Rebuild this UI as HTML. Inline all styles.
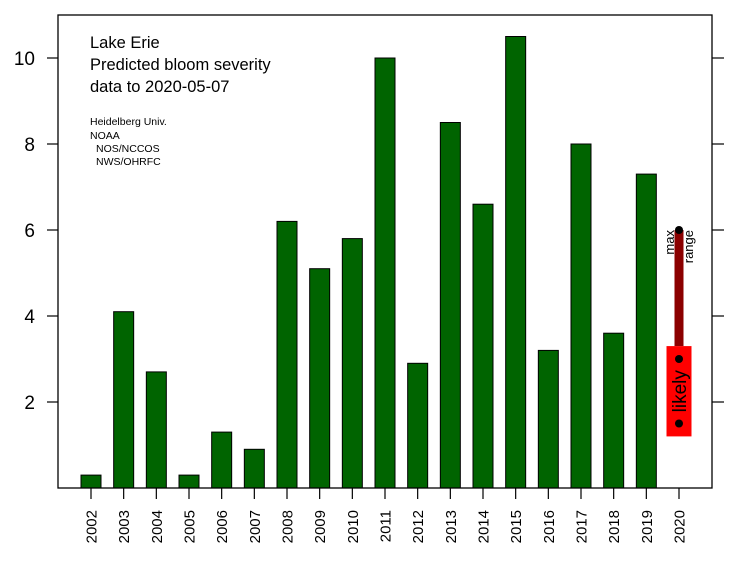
<!DOCTYPE html>
<html><head><meta charset="utf-8"><style>
html,body{margin:0;padding:0;background:#fff;}
svg{display:block;font-family:"Liberation Sans",Arial,sans-serif;}
</style></head><body>
<svg id="chart" width="754" height="576" viewBox="0 0 754 576"></svg>
<script>
const years = ["2002","2003","2004","2005","2006","2007","2008","2009","2010","2011","2012","2013","2014","2015","2016","2017","2018","2019","2020"];
const severity = [0.3,4.1,2.7,0.3,1.3,0.9,6.2,5.1,5.8,10.0,2.9,8.5,6.6,10.5,3.2,8.0,3.6,7.3];
const yTicks = [2,4,6,8,10];
const forecastMax = 6.0;
const likelyTop = 3.3;
const likelyBottom = 1.2;
const likelyPoints = [3.0,1.5];

const NS="http://www.w3.org/2000/svg";
const svg=document.getElementById('chart');
const L=58,R=712,T=15,B=488;
const y=v=>B-v*43;
const x=i=>91+i*(588/18);
function mk(tag,attrs,parent){const e=document.createElementNS(NS,tag);for(const k in attrs)e.setAttribute(k,attrs[k]);(parent||svg).appendChild(e);return e;}

// bars
severity.forEach((v,i)=>{
  const r=mk('rect',{x:x(i)-10,y:y(v),width:20,height:y(0)-y(v),fill:'#006400',stroke:'#000','stroke-width':1});
  
  
});

// frame
const fr=mk('rect',{x:L,y:T,width:R-L,height:B-T,fill:'none',stroke:'#000','stroke-width':1.3});



// y ticks
yTicks.forEach(t=>{
  const yy=y(t);
  const tl=mk('line',{x1:47,x2:L,y1:yy,y2:yy,stroke:'#000','stroke-width':1.2});
  
  
  const tr=mk('line',{x1:R,x2:724,y1:yy,y2:yy,stroke:'#000','stroke-width':1.2});
  
  
  const tx=mk('text',{x:35,y:yy+7,'text-anchor':'end','font-size':19,fill:'#000'});
  tx.textContent=t;
  
  
});

// x ticks
years.forEach((yr,i)=>{
  const xx=x(i);
  const tl=mk('line',{x1:xx,x2:xx,y1:B,y2:499,stroke:'#000','stroke-width':1.2});
  
  
  const tx=mk('text',{x:0,y:0,'text-anchor':'end','font-size':15,fill:'#000',transform:`translate(${xx+5.5},510) rotate(-90)`});
  tx.textContent=yr;
  
  
});

// forecast 2020
const xf=x(18);
const mr=mk('rect',{x:xf-4.5,y:y(forecastMax),width:9,height:y(likelyTop)-y(forecastMax),fill:'#8b0000'});


const md=mk('circle',{cx:xf,cy:y(forecastMax),r:4,fill:'#000'});


const lr=mk('rect',{x:xf-12.5,y:y(likelyTop),width:25,height:y(likelyBottom)-y(likelyTop),fill:'#ff0000'});


likelyPoints.forEach(p=>{
  const c=mk('circle',{cx:xf,cy:y(p),r:4,fill:'#000'});
  
  
});
const lt=mk('text',{x:0,y:0,'text-anchor':'middle','font-size':19,fill:'#000',transform:`translate(${xf+7},${(y(likelyTop)+y(likelyBottom))/2}) rotate(-90)`});
lt.textContent='likely';


const mx=mk('text',{x:0,y:0,'text-anchor':'end','font-size':13,fill:'#000',transform:`translate(${xf-5},${y(forecastMax)}) rotate(-90)`});
mx.textContent='max';


const rg=mk('text',{x:0,y:0,'text-anchor':'end','font-size':13,fill:'#000',transform:`translate(${xf+14},${y(forecastMax)}) rotate(-90)`});
rg.textContent='range';



// annotations
[["Lake Erie",48],["Predicted bloom severity",70],["data to 2020-05-07",92]].forEach(([s,yy])=>{
  const t=mk('text',{x:90,y:yy,'font-size':16.5,fill:'#000'});
  t.textContent=s;
  
  
});
[["Heidelberg Univ.",90,125],["NOAA",90,139],["NOS/NCCOS",96,152],["NWS/OHRFC",96,165]].forEach(([s,xx,yy])=>{
  const t=mk('text',{x:xx,y:yy,'font-size':10.5,fill:'#000'});
  t.textContent=s;
  
  
});
</script>
</body></html>
